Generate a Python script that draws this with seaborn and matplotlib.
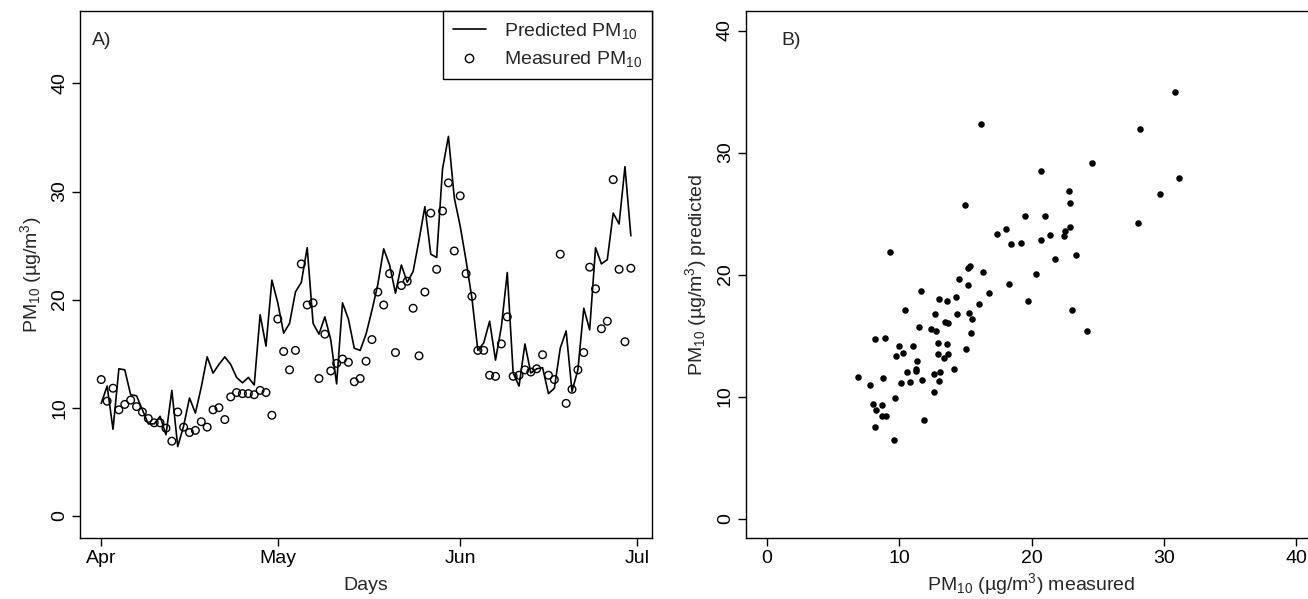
import matplotlib
matplotlib.use("Agg")
import matplotlib.pyplot as plt
from matplotlib.lines import Line2D
import numpy as np
import pandas as pd
import seaborn as sns

# ---- data ----
first_day = "2007-04-01"

# daily PM10, Apr 1 .. Jun 30
predicted_pm10 = [
    10.4, 12.0, 8.0, 13.6, 13.5, 11.2, 11.1, 9.8, 8.5, 8.5,
    9.2, 7.5, 11.6, 6.4, 8.3, 10.9, 9.5, 11.9, 14.7, 13.2,
    14.0, 14.7, 14.0, 12.8, 12.3, 12.8, 12.1, 18.6, 15.7, 21.8,
    19.7, 16.9, 17.8, 20.7, 21.6, 24.8, 17.8, 16.8, 18.4, 16.3,
    12.2, 19.7, 18.2, 15.5, 15.3, 16.8, 19.0, 21.4, 24.7, 23.2,
    20.6, 23.2, 21.6, 22.6, 25.5, 28.6, 24.2, 23.9, 32.1, 35.1,
    29.4, 26.8, 23.6, 20.1, 15.3, 16.0, 18.0, 14.4, 17.5, 22.5,
    13.2, 12.0, 15.9, 13.2, 13.6, 13.7, 11.3, 11.8, 15.5, 17.1,
    11.5, 13.5, 19.2, 17.2, 24.8, 23.3, 23.7, 28.0, 27.0, 32.3,
    25.9,
]
measured_pm10 = [
    12.6, 10.6, 11.8, 9.8, 10.3, 10.7, 10.1, 9.6, 9.0, 8.6,
    8.6, 8.1, 6.9, 9.6, 8.2, 7.7, 7.9, 8.7, 8.2, 9.8,
    10.0, 8.9, 11.0, 11.4, 11.3, 11.3, 11.2, 11.6, 11.4, 9.3,
    18.2, 15.2, 13.5, 15.3, 23.3, 19.5, 19.7, 12.7, 16.8, 13.4,
    14.1, 14.5, 14.2, 12.4, 12.7, 14.3, 16.3, 20.7, 19.5, 22.4,
    15.1, 21.3, 21.7, 19.2, 14.8, 20.7, 28.0, 22.8, 28.2, 30.8,
    24.5, 29.6, 22.4, 20.3, 15.3, 15.3, 13.0, 12.9, 15.9, 18.4,
    12.9, 13.0, 13.5, 13.3, 13.6, 14.9, 13.0, 12.6, 24.2, 10.4,
    11.7, 13.5, 15.1, 23.0, 21.0, 17.3, 18.0, 31.1, 22.8, 16.1,
    22.9,
]

# panel B: measured vs predicted
scatter_measured = [
    16.15, 14.94, 17.41, 18.06, 18.44, 18.26, 9.27, 15.21, 15.34, 16.35,
    14.53, 15.19, 11.61, 16.8, 13.02, 13.58, 14.31, 10.43, 16.0, 12.72,
    15.24, 14.33, 13.43, 13.65, 15.47, 11.49, 12.42, 12.8, 15.42, 8.16,
    8.94, 10.0, 11.0, 10.3, 9.77, 12.92, 13.63, 12.9, 13.35, 13.68,
    15.04, 11.36, 11.23, 10.6, 11.28, 14.13, 12.64, 13.07, 6.9, 8.77,
    10.15, 10.78, 11.71, 13.02, 7.78, 12.59, 9.67, 8.04, 8.21, 8.66,
    8.66, 9.02, 8.16, 11.89, 9.62,
    30.83, 28.19, 24.58, 20.68, 31.13, 22.85, 29.67, 22.93, 19.47, 20.98,
    28.01, 22.9, 22.5, 21.41, 22.47, 20.71, 19.17, 21.76, 23.35, 20.33,
    19.72, 23.02, 24.21,
]
scatter_predicted = [
    32.3, 25.67, 23.3, 23.73, 22.54, 19.22, 21.88, 20.56, 20.66, 20.19,
    19.66, 19.15, 18.65, 18.46, 17.96, 17.84, 18.18, 17.12, 17.59, 16.8,
    16.87, 16.74, 16.14, 15.99, 16.36, 15.71, 15.52, 15.36, 15.24, 14.7,
    14.76, 14.1, 14.1, 13.6, 13.32, 14.39, 14.33, 13.51, 13.17, 13.45,
    13.86, 12.92, 12.13, 12.0, 12.26, 12.23, 11.88, 12.0, 11.63, 11.5,
    11.13, 11.22, 11.35, 11.29, 10.97, 10.41, 9.91, 9.4, 8.9, 9.31,
    8.43, 8.43, 7.49, 8.09, 6.46,
    34.98, 31.94, 29.15, 28.5, 27.93, 26.87, 26.61, 25.83, 24.76, 24.83,
    24.23, 23.89, 23.57, 23.26, 23.17, 22.79, 22.57, 21.29, 21.57, 20.06,
    17.84, 17.12, 15.39,
]

month_ticks = ["2007-04-01", "2007-05-01", "2007-06-01", "2007-07-01"]
month_labels = ["Apr", "May", "Jun", "Jul"]
value_ticks = [0, 10, 20, 30, 40]

# ---- style ----
sns.set_theme(style="ticks")
plt.rcParams["font.family"] = ["Liberation Sans", "DejaVu Sans"]
plt.rcParams["mathtext.fontset"] = "custom"
plt.rcParams["mathtext.rm"] = "Liberation Sans"
plt.rcParams["mathtext.it"] = "Liberation Sans:italic"
plt.rcParams["mathtext.bf"] = "Liberation Sans:bold"
fs = 14

days = pd.date_range(first_day, periods=len(predicted_pm10), freq="D")
ts = pd.DataFrame({"day": days, "predicted": predicted_pm10, "measured": measured_pm10})
sc = pd.DataFrame({"measured": scatter_measured, "predicted": scatter_predicted})

fig = plt.figure(figsize=(13.08, 5.99), dpi=100)
ax1 = fig.add_axes([0.0612, 0.1018, 0.4373, 0.8798])
ax2 = fig.add_axes([0.5701, 0.1018, 0.4373, 0.8798])

# -- panel A --
sns.lineplot(data=ts, x="day", y="predicted", ax=ax1, color="black", lw=1.2)
sns.scatterplot(data=ts, x="day", y="measured", ax=ax1, marker="o", s=30,
                facecolor="none", edgecolor="black", linewidth=1.0)
pad_days = pd.Timedelta(days=3.6)
ax1.set_xlim(days[0] - pad_days, days[-1] + pad_days)
ax1.set_ylim(-2.06, 46.7)
ax1.set_xticks(pd.to_datetime(month_ticks))
ax1.set_xticklabels(month_labels)
ax1.set_yticks(value_ticks)
ax1.set_xlabel("Days", fontsize=fs, labelpad=7)
ax1.set_ylabel("PM$_{10}$ (µg/m$^3$)", fontsize=fs, labelpad=5)
ax1.text(0.02, 0.935, "A)", transform=ax1.transAxes, fontsize=fs)

handles = [Line2D([], [], color="black", lw=1.2),
           Line2D([], [], color="black", ls="none", marker="o", ms=6,
                  mfc="none", mew=1.0)]
leg = ax1.legend(handles, ["Predicted PM$_{10}$", "Measured PM$_{10}$"],
                 loc="upper right", borderaxespad=0, fontsize=fs,
                 fancybox=False, framealpha=1, edgecolor="black",
                 handlelength=1.7, handletextpad=0.95, borderpad=0.5,
                 labelspacing=0.45)
leg.get_frame().set_linewidth(1.0)

# -- panel B --
sns.scatterplot(data=sc, x="measured", y="predicted", ax=ax2, color="black",
                s=22, linewidth=0)
ax2.set_xlim(-1.6, 41.6)
ax2.set_ylim(-1.6, 41.6)
ax2.set_xticks(value_ticks)
ax2.set_yticks(value_ticks)
ax2.set_xlabel("PM$_{10}$ (µg/m$^3$) measured", fontsize=fs, labelpad=3)
ax2.set_ylabel("PM$_{10}$ (µg/m$^3$) predicted", fontsize=fs, labelpad=6)
ax2.text(0.063, 0.935, "B)", transform=ax2.transAxes, fontsize=fs)

for ax in (ax1, ax2):
    for sp in ax.spines.values():
        sp.set_visible(True)
        sp.set_color("black")
        sp.set_linewidth(1.0)
    ax.tick_params(direction="out", length=6, width=1, colors="black",
                   labelsize=fs, pad=2.5)
    ax.tick_params(axis="y", labelrotation=90)
    for lab in ax.get_yticklabels():
        lab.set_va("center")

fig.savefig("out.png", dpi=100)
